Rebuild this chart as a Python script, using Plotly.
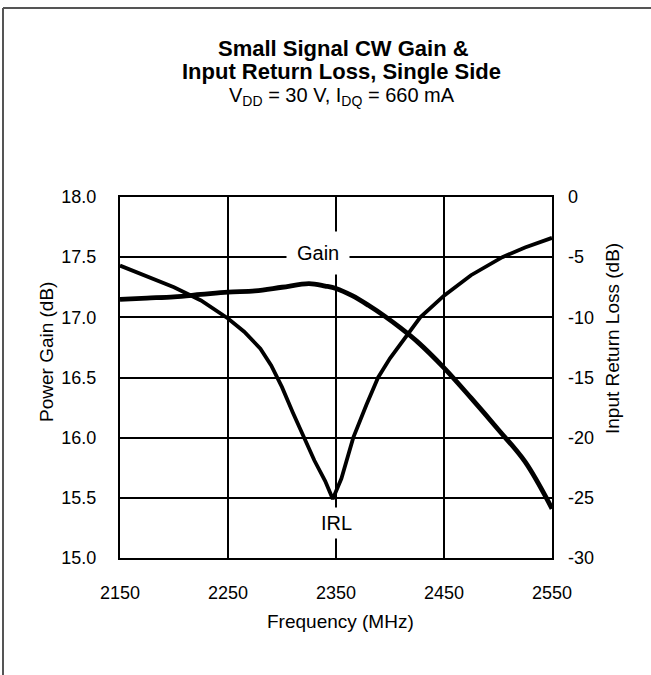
import plotly.graph_objects as go

# Frequency (MHz) and values
gain_freq = [2150, 2175, 2200, 2225, 2250, 2275, 2300, 2325, 2340, 2350, 2365,
             2380, 2395, 2410, 2425, 2450, 2475, 2500, 2525, 2550]
gain_db = [17.15, 17.16, 17.17, 17.19, 17.21, 17.22, 17.25, 17.28, 17.26, 17.24, 17.18,
           17.10, 17.01, 16.91, 16.80, 16.58, 16.33, 16.07, 15.80, 15.41]

irl_freq = [2150, 2175, 2200, 2225, 2250, 2265, 2280, 2290, 2300, 2310, 2320, 2330,
            2340, 2347, 2355, 2366, 2378, 2389, 2400, 2417, 2428, 2450, 2475, 2504,
            2525, 2550]
irl_db = [-5.7, -6.6, -7.5, -8.6, -10.1, -11.2, -12.6, -14.0, -15.8, -17.9, -20.0, -21.9,
          -23.6, -25.1, -23.4, -20.0, -17.3, -15.0, -13.4, -11.3, -10.0, -8.2, -6.5, -5.0,
          -4.2, -3.4]

x_ticks = [2150, 2250, 2350, 2450, 2550]
gain_ticks = [15.0, 15.5, 16.0, 16.5, 17.0, 17.5, 18.0]
irl_ticks = [-30, -25, -20, -15, -10, -5, 0]
irl_labels = ["-30", "-25", "-20", "-15", "-10", "-5", "0"]

W, H = 651, 675
L, R, T, B = 120, 99, 197, 117
PW, PH = W - L - R, H - T - B
FONT = "Liberation Sans, Arial, sans-serif"


def px(x):
    return (x - L) / PW


def py(y):
    return (H - B - y) / PH


fig = go.Figure()
fig.add_trace(go.Scatter(x=gain_freq, y=gain_db, mode="lines", name="Gain",
                         line=dict(color="black", width=4.8), line_shape="spline"))
fig.add_trace(go.Scatter(x=irl_freq, y=irl_db, mode="lines", name="IRL", yaxis="y2",
                         line=dict(color="black", width=3.8)))

tick_font = dict(family=FONT, size=18, color="black")
title_font = dict(family=FONT, size=19, color="black")
fig.update_layout(
    width=W, height=H,
    margin=dict(l=L, r=R, t=T, b=B),
    paper_bgcolor="white", plot_bgcolor="white",
    showlegend=False,
    font=dict(family=FONT, size=18, color="black"),
    xaxis=dict(range=[2150, 2550], tickvals=x_ticks, showgrid=True, gridcolor="black",
               gridwidth=2, showline=True, linecolor="black", linewidth=2, mirror=True,
               zeroline=False, ticks="", ticklabelstandoff=17, tickfont=tick_font),
    yaxis=dict(range=[15, 18], tickvals=gain_ticks, tickformat=".1f", showgrid=True,
               gridcolor="black", gridwidth=2, showline=True, linecolor="black",
               linewidth=2, mirror=True, zeroline=False, ticks="",
               ticklabelstandoff=18, tickfont=tick_font),
    yaxis2=dict(range=[-30, 0], tickvals=irl_ticks, ticktext=irl_labels, overlaying="y",
                side="right", showgrid=False, zeroline=False, showline=False, ticks="",
                ticklabelstandoff=15, tickfont=tick_font),
)

ann = [
    dict(text="<b>Small Signal CW Gain &</b>", x=px(343), y=py(49), font=dict(family=FONT, size=22)),
    dict(text="<b>Input Return Loss, Single Side</b>", x=px(341), y=py(72), font=dict(family=FONT, size=22)),
    dict(text="V<sub>DD</sub> = 30 V, I<sub>DQ</sub> = 660 mA", x=px(342), y=py(96), font=dict(family=FONT, size=20)),
    dict(text="Power Gain (dB)", x=px(46), y=py(352), textangle=-90, font=title_font),
    dict(text="Input Return Loss (dB)", x=px(612), y=py(339), textangle=-90, font=title_font),
    dict(text="Frequency (MHz)", x=px(340), y=py(621), font=title_font),
    dict(text="Gain", x=px(318), y=py(253), font=dict(family=FONT, size=20), bgcolor="white", borderpad=10),
    dict(text="IRL", x=px(336), y=py(523), font=dict(family=FONT, size=20), bgcolor="white", borderpad=4),
]
for a in ann:
    fig.add_annotation(xref="paper", yref="paper", showarrow=False,
                       xanchor="center", yanchor="middle", **a)

# outer frame (only top and left edges visible in the reference)
fig.add_shape(type="line", xref="paper", yref="paper", x0=px(3), x1=px(W + 5),
              y0=py(8), y1=py(8), line=dict(color="#555555", width=2))
fig.add_shape(type="line", xref="paper", yref="paper", x0=px(3), x1=px(3),
              y0=py(8), y1=py(H + 5), line=dict(color="#555555", width=2))

fig.write_html("out.html", config={"displayModeBar": False},
               post_script="document.body.style.margin='0';")
